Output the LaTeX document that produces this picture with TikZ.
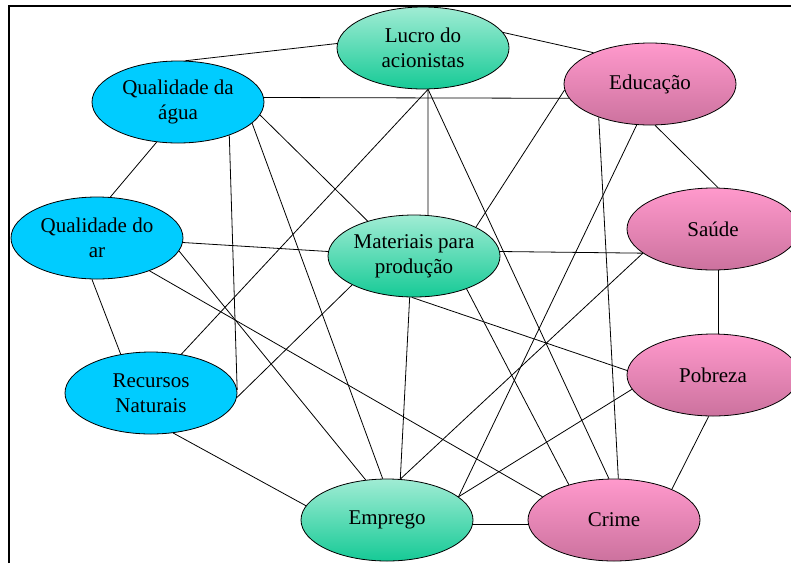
\documentclass[tikz,border=0pt]{standalone}
\usepackage{fontspec}
\setmainfont{Liberation Serif}
\usetikzlibrary{shapes.geometric}
\definecolor{ciano}{RGB}{0,204,255}
\definecolor{verdeTopo}{RGB}{160,236,212}
\definecolor{verdeBase}{RGB}{22,202,150}
\definecolor{rosaTopo}{RGB}{255,153,204}
\definecolor{rosaBase}{RGB}{204,114,158}
\begin{document}
\begin{tikzpicture}[x=1pt, y=-1pt,
  bolha/.style={draw, ellipse, line width=0.8pt, minimum width=172pt, minimum height=82pt,
    inner xsep=-10pt, inner ysep=0pt, align=center, font=\fontsize{21}{25}\selectfont},
  azul/.style={bolha, fill=ciano},
  verde/.style={bolha, top color=verdeTopo, bottom color=verdeBase},
  rosa/.style={bolha, top color=rosaTopo, bottom color=rosaBase},
  liga/.style={line width=0.8pt}]
  \clip (0,0) rectangle (791,563);
  \fill[white] (0,0) rectangle (791,563);
  \draw[line width=1.6pt] (9,563) -- (9,6) -- (791,6);
  \node[verde] (lucro) at (423,48) {Lucro do\\acionistas};
  \node[azul] (agua) at (178,102) {Qualidade da\\água};
  \node[rosa] (educ) at (650,84) {Educação};
  \node[azul] (ar) at (97,238) {Qualidade do\\ar};
  \node[verde] (mat) at (414,256) {Materiais para\\produção};
  \node[rosa] (saude) at (713,229) {Saúde};
  \node[rosa] (pobreza) at (713,375) {Pobreza};
  \node[azul] (recursos) at (151,393) {Recursos\\Naturais};
  \node[verde] (emprego) at (387,520) {Emprego};
  \node[rosa] (crime) at (614,520) {Crime};
  % Ligações
  \draw[liga] (lucro.177) -- (agua.80);
  \draw[liga] (lucro.11) -- (educ.151);
  \draw[liga] (lucro.-83) -- (recursos.52);
  \draw[liga] (lucro.-83) -- (mat.71);
  \draw[liga] (lucro.-83) -- (crime.97);
  \draw[liga] (agua.3) -- (educ.190);
  \draw[liga] (agua.242) -- (ar.72);
  \draw[liga] (agua.-33) -- (recursos.2);
  \draw[liga] (agua.-16) -- (emprego.96);
  \draw[liga] (agua.-9) -- (mat.143);
  \draw[liga] (educ.184) -- (mat.25);
  \draw[liga] (educ.213) -- (crime.84);
  \draw[liga] (educ.252) -- (emprego.18);
  \draw[liga] (educ.277) -- (saude.83);
  \draw[liga] (ar.-3) -- (mat.177);
  \draw[liga] (ar.-9) -- (emprego.118);
  \draw[liga] (ar.-32) -- (crime.162);
  \draw[liga] (ar.263) -- (recursos.128);
  \draw[liga] (mat.3) -- (saude.199);
  \draw[liga] (mat.205) -- (recursos.-3);
  \draw[liga] (mat.264) -- (emprego.72);
  \draw[liga] (mat.267) -- (pobreza.177);
  \draw[liga] (mat.-32) -- (crime.142);
  \draw[liga] (saude.199) -- (emprego.72);
  \draw[liga] (saude.-83) -- (pobreza.83);
  \draw[liga] (pobreza.190) -- (emprego.18);
  \draw[liga] (pobreza.264) -- (crime.28);
  \draw[liga] (recursos.-61) -- (emprego.170);
  \draw[liga] (emprego.-3) -- (crime.183);
\end{tikzpicture}
\end{document}
